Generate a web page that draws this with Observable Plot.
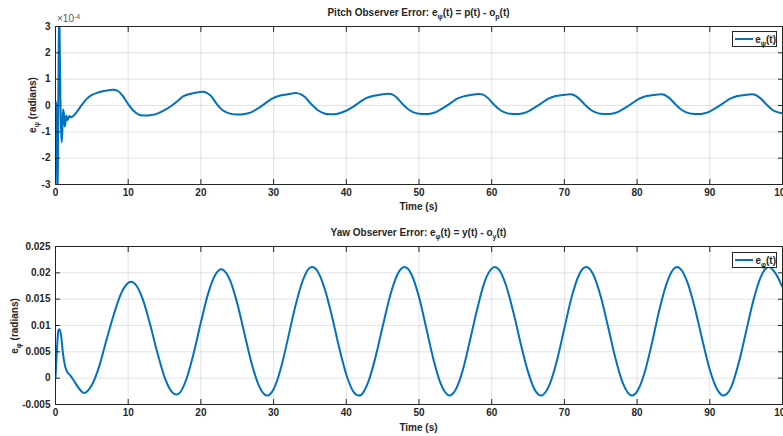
<!DOCTYPE html>
<html><head><meta charset="utf-8">
<script src="https://cdn.jsdelivr.net/npm/d3@7"></script>
<script src="https://cdn.jsdelivr.net/npm/@observablehq/plot@0.6"></script>
<style>
body{margin:0;background:#fff;font-family:"Liberation Sans",Arial,Helvetica,sans-serif;}
#wrap{position:relative;width:783px;height:436px;overflow:hidden;background:#fff;}
.abs{position:absolute;white-space:nowrap;color:#262626;font-weight:bold;line-height:1;}
.title{font-size:10px;transform:translate(-50%,-50%);}
.xlab{font-size:10px;transform:translate(-50%,-50%);}
.ylab{font-size:10px;transform:translate(-50%,-50%) rotate(-90deg);}
sub{font-size:70%;vertical-align:-0.4em;line-height:0;}
sup{font-size:70%;vertical-align:0.5em;line-height:0;}
.legend{position:absolute;border:1px solid #262626;background:#fff;box-sizing:border-box;font-size:10px;font-weight:bold;color:#262626;display:flex;align-items:center;}
.legend .ln{display:inline-block;width:20px;height:0;border-top:2px solid #0072BD;margin:0 2px 0 2px;}
.plot{position:absolute;left:0;}
</style></head><body><div id="wrap"></div>
<script>
// ---- data ----
const xTicks = [0,10,20,30,40,50,60,70,80,90,100];
const pitchTicks = [-3,-2,-1,0,1,2,3];              // ×10^-4 rad
const yawTicks = [-0.005,0,0.005,0.01,0.015,0.02,0.025];

const pitchTime = [
 0,0.1,0.2,0.28,0.36,0.45,0.52,0.62,0.75,0.85,
 0.95,1.05,1.15,1.28,1.4,1.5,1.62,1.75,1.9,2.1,
 2.5,3,3.5,4,4.5,5,5.7,6.5,7.3,8,
 8.6,9.2,10,10.8,11.5,12.2,13,14,15,16,
 17,17.6,18.5,19.4,20.3,20.8,21.4,22.2,23,24,
 24.8,25.8,26.8,27.8,28.8,29.8,30.8,31.8,32.6,33.2,
 33.7,34.3,35.2,36.1,37.1,37.8,38.8,39.8,40.8,41.8,
 42.8,43.8,44.8,45.8,46.3,46.9,47.8,48.7,49.7,50.6,
 51.5,52.4,53.3,54.3,55.3,56.3,57.3,58.3,58.8,59.4,
 60.3,61.2,62.2,63.1,64,64.9,65.8,66.8,67.8,68.8,
 69.8,70.8,71.3,71.9,72.8,73.7,74.7,75.6,76.5,77.4,
 78.3,79.3,80.3,81.3,82.3,83.3,83.8,84.4,85.3,86.2,
 87.2,88.1,89,89.9,90.8,91.8,92.8,93.8,94.8,95.8,
 96.3,96.9,97.8,98.7,99.4,100];
const pitchErr = [
 0.15,0.05,-2.2,-3.6,-1,2.5,3.6,1.5,-0.8,-1.4,
 -0.9,-0.15,-0.3,-0.8,-0.6,-0.38,-0.55,-0.5,-0.4,-0.45,
 -0.38,-0.22,-0.02,0.16,0.3,0.4,0.48,0.54,0.58,0.6,
 0.55,0.38,0.05,-0.22,-0.35,-0.38,-0.37,-0.31,-0.18,0,
 0.22,0.36,0.44,0.49,0.52,0.48,0.36,0.05,-0.18,-0.31,
 -0.34,-0.33,-0.27,-0.12,0.07,0.26,0.37,0.42,0.46,0.47,
 0.43,0.32,0.05,-0.18,-0.31,-0.33,-0.31,-0.22,-0.07,0.12,
 0.29,0.37,0.42,0.45,0.42,0.31,0.04,-0.18,-0.3,-0.32,
 -0.31,-0.24,-0.1,0.08,0.27,0.36,0.41,0.44,0.41,0.3,
 0.04,-0.18,-0.3,-0.32,-0.31,-0.24,-0.1,0.08,0.26,0.36,
 0.4,0.43,0.4,0.29,0.04,-0.18,-0.3,-0.32,-0.31,-0.24,
 -0.1,0.08,0.26,0.36,0.4,0.43,0.4,0.29,0.04,-0.18,
 -0.3,-0.32,-0.31,-0.24,-0.1,0.08,0.26,0.36,0.4,0.43,
 0.4,0.29,0.04,-0.18,-0.26,-0.29];

const yawTime = [
 0,0.2,0.4,0.55,0.8,1,1.3,1.6,2,2.5,3,3.5,3.9,
 5,6,7,8,9,10,10.4,
 11,12,13,14,15,16,16.6,
 17,18,19,20,21,22,22.8,
 23,24,25,26,27,28,29.1,
 30,31,32,33,34,35,35.3,
 36,37,38,39,40,41,41.7,
 42,43,44,45,46,47,48,
 49,50,51,52,53,54.2,
 55,56,57,58,59,60,60.4,
 61,62,63,64,65,66,66.8,
 68,69,70,71,72,73,
 74,75,76,77,78,79.3,
 80,81,82,83,84,85,85.5,
 86,87,88,89,90,91,91.9,
 93,94,95,96,97,98.1,
 99,100];
const yawErr = [
 0,0.0055,0.0091,0.0093,0.0078,0.0050,0.0024,0.0012,0.0006,-0.0004,-0.0015,-0.0024,-0.0028,
 -0.0013,0.0022,0.0072,0.0120,0.0160,0.0181,0.0183,
 0.0178,0.0150,0.0103,0.0049,0.0002,-0.0026,-0.0031,
 -0.0029,-0.0002,0.0047,0.0106,0.0161,0.0197,0.0207,
 0.0206,0.0186,0.0142,0.0084,0.0027,-0.0015,-0.0033,
 -0.0021,0.0019,0.0077,0.0137,0.0185,0.0210,0.0211,
 0.0204,0.0171,0.0119,0.0059,0.0007,-0.0026,-0.0033,
 -0.0032,-0.0008,0.0039,0.0098,0.0155,0.0196,0.0211,
 0.0196,0.0154,0.0095,0.0035,-0.0011,-0.0033,
 -0.0023,0.0014,0.0071,0.0131,0.0182,0.0208,0.0211,
 0.0206,0.0175,0.0124,0.0065,0.0012,-0.0024,-0.0033,
 -0.0011,0.0035,0.0095,0.0154,0.0196,0.0211,
 0.0196,0.0155,0.0098,0.0039,-0.0008,-0.0033,
 -0.0025,0.0009,0.0064,0.0126,0.0177,0.0207,0.0211,
 0.0207,0.0179,0.0130,0.0071,0.0016,-0.0021,-0.0033,
 -0.0015,0.0030,0.0089,0.0148,0.0192,0.0211,
 0.0200,0.0173];

// ---- build ----
const zip = (ts, vs) => ts.map((t, i) => ({t, v: vs[i]})).filter(d => d.v !== undefined);
const pitchData = zip(pitchTime, pitchErr);
const yawData = zip(yawTime, yawErr);

const INK = "#262626";
function panel(data, yDomain, yTicks, fmt, curve) {
  return Plot.plot({
    width: 783, height: 215,
    marginLeft: 55, marginRight: 1, marginTop: 26, marginBottom: 31,
    style: {fontFamily: '"Liberation Sans", Arial, sans-serif', fontSize: "10px", fontWeight: "bold", color: INK, background: "transparent", overflow: "visible"},
    x: {domain: [0, 100], label: null},
    y: {domain: yDomain, label: null},
    marks: [
      Plot.gridX(xTicks, {stroke: INK, strokeOpacity: 0.13}),
      Plot.gridY(yTicks, {stroke: INK, strokeOpacity: 0.13}),
      Plot.line(data, {x: "t", y: "v", stroke: "#0072BD", strokeWidth: 2, curve, clip: true}),
      Plot.frame({stroke: INK, strokeWidth: 1}),
      Plot.axisX(xTicks, {anchor: "bottom", tickSize: -5, tickPadding: 9, label: null, fill: INK}),
      Plot.axisX(xTicks, {anchor: "top", tickSize: -5, tickFormat: () => "", label: null}),
      Plot.axisY(yTicks, {anchor: "left", tickSize: -5, tickPadding: 10, tickFormat: fmt, label: null, fill: INK}),
      Plot.axisY(yTicks, {anchor: "right", tickSize: -5, tickFormat: () => "", label: null})
    ]
  });
}

const wrap = document.getElementById("wrap");
const p1 = panel(pitchData, [-3, 3], pitchTicks, d => String(d), "catmull-rom");
p1.classList.add("plot"); p1.style.top = "0px";
const p2 = panel(yawData, [-0.005, 0.025], yawTicks, d => String(+d.toFixed(3)), "monotone-x");
p2.classList.add("plot"); p2.style.top = "220px";
wrap.append(p1, p2);

function add(html, cls, x, y, extra) {
  const d = document.createElement("div");
  d.className = "abs " + cls;
  d.style.left = x + "px"; d.style.top = y + "px";
  if (extra) Object.assign(d.style, extra);
  d.innerHTML = html;
  wrap.append(d);
  return d;
}
add("Pitch Observer Error: e<sub>ψ</sub>(t) = p(t) - o<sub>p</sub>(t)", "title", 418.5, 13);
add("Yaw Observer Error: e<sub>φ</sub>(t) = y(t) - o<sub>y</sub>(t)", "title", 418.5, 233);
add("Time (s)", "xlab", 418.5, 207);
add("Time (s)", "xlab", 418.5, 428);
add("e<sub>ψ</sub> (radians)", "ylab", 33, 105);
add("e<sub>φ</sub> (radians)", "ylab", 15, 326);
add("×10<sup>-4</sup>", "", 57, 14, {fontSize: "10px", fontWeight: "normal", color: "#555"});

function legend(label, x, y) {
  const d = document.createElement("div");
  d.className = "legend";
  Object.assign(d.style, {left: x + "px", top: y + "px", width: "45px", height: "16px"});
  d.innerHTML = `<span class="ln"></span><span>${label}</span>`;
  wrap.append(d);
}
legend("e<sub>ψ</sub>(t)", 732, 31);
legend("e<sub>φ</sub>(t)", 732, 252);
</script></body></html>
